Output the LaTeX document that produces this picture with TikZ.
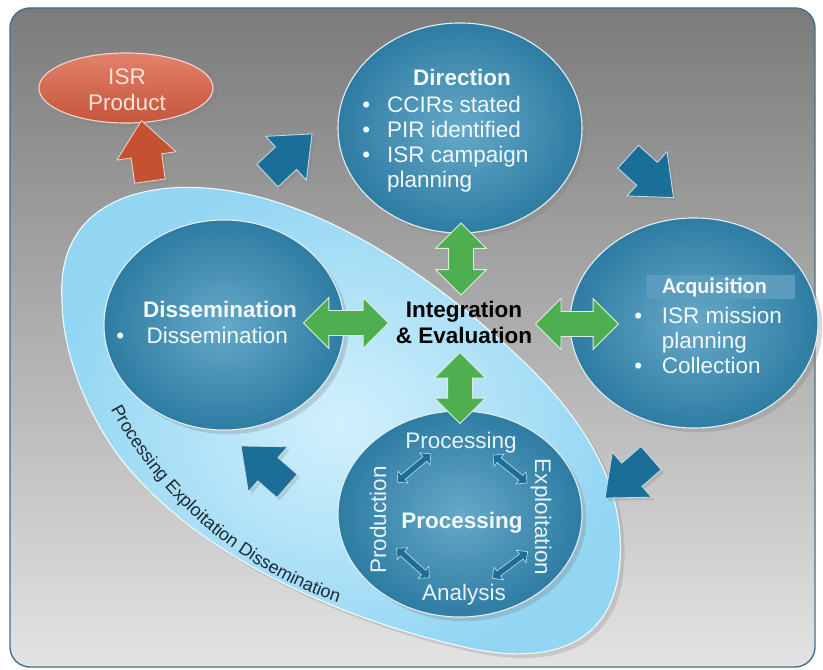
\documentclass[tikz,border=0pt]{standalone}
\usepackage{fontspec}
\setmainfont{Liberation Sans}
\newfontfamily\carlito{Carlito}
\usepackage{xcolor}
\usetikzlibrary{positioning,calc,shapes.geometric,shapes.arrows,shadows,decorations.text}

\definecolor{panelTop}{HTML}{7B7B7B}
\definecolor{panelBot}{HTML}{E3E3E3}
\definecolor{panelEdge}{HTML}{46708A}
\definecolor{pedIn}{HTML}{D2F0FC}
\definecolor{pedOut}{HTML}{93D6F3}
\definecolor{pedText}{HTML}{1D2A33}
\definecolor{circIn}{HTML}{66A9C8}
\definecolor{circOut}{HTML}{2E7CA3}
\definecolor{blueArr}{HTML}{1B6E98}
\definecolor{redArr}{HTML}{C4512F}
\definecolor{isrTop}{HTML}{E2826A}
\definecolor{isrBot}{HTML}{C4553A}
\definecolor{isrText}{HTML}{FBE3DA}
\definecolor{greenArr}{HTML}{4FAE4F}
\definecolor{acqBox}{HTML}{5C9CBD}
\definecolor{txtLight}{HTML}{F2F8FB}

\begin{document}
\begin{tikzpicture}[
  x=0.025cm, y=-0.025cm,
  % --- shapes ---
  cycle_circle/.style={
    ellipse, draw=white!80!circIn, line width=0.8pt, inner sep=0pt,
    inner color=circIn, outer color=circOut,
    drop shadow={opacity=0.3, shadow xshift=3pt, shadow yshift=-3pt}
  },
  blue_arrow/.style={
    single arrow, fill=blueArr, draw=white!75!blueArr, line width=0.6pt,
    minimum height=1.525cm, inner xsep=0pt, inner ysep=0.375cm,
    single arrow head extend=0.36cm, single arrow tip angle=80,
    drop shadow={opacity=0.25, shadow xshift=2pt, shadow yshift=-2pt}
  },
  green_arrow/.style={
    double arrow, fill=greenArr, draw=white!80!greenArr, line width=0.6pt,
    inner xsep=0pt, inner ysep=0.3cm, double arrow head extend=0.325cm
  },
  small_arrow/.style={
    double arrow, fill=blueArr, draw=white!80!blueArr, line width=0.4pt,
    minimum height=1.1cm, inner xsep=0pt, inner ysep=0.07cm,
    double arrow head extend=0.12cm
  },
  % --- text ---
  head_text/.style={text=txtLight, font=\fontsize{16}{18}\selectfont\bfseries, inner sep=0pt},
  sub_text/.style={text=white!85!circIn, font=\fontsize{16}{18}\selectfont, inner sep=0pt},
  item_text/.style={text=txtLight, font=\fontsize{16}{17.8}\selectfont, inner sep=0pt, anchor=base west},
  acq_box/.style={
    anchor=west, fill=acqBox, text=txtLight,
    font=\carlito\fontsize{16}{18}\selectfont\bfseries,
    text width=2.95cm, align=left, inner xsep=0.375cm, inner ysep=0pt,
    minimum height=0.575cm
  }
  ]
  \useasboundingbox (0,0) rectangle (823,670);
  \fill[white] (0,0) rectangle (823,670);
  % Panel
  \draw[panelEdge, line width=1pt, rounded corners=0.5cm, top color=panelTop, bottom color=panelBot]
    (10,8) rectangle (815,667);

  % PED region
  \path[draw=white!85!pedOut, line width=0.8pt, inner color=pedIn, outer color=pedOut,
        drop shadow={opacity=0.25, shadow xshift=3pt, shadow yshift=-3pt}]
    (62,300) .. controls (58,240) and (90,195) .. (170,188)
    .. controls (280,180) and (400,250) .. (500,340)
    .. controls (580,410) and (625,480) .. (620,560)
    .. controls (615,645) and (550,668) .. (460,646)
    .. controls (380,628) and (220,575) .. (130,470)
    .. controls (95,430) and (62,360) .. (62,300) -- cycle;
  \path[decorate, decoration={text along path, text align=center, text color=pedText,
        text={|\fontsize{12.8}{14}\selectfont|Processing Exploitation Dissemination}}]
    (105,398) .. controls (145,480) and (228,570) .. (350,606);

  % Circles
  \node[cycle_circle, minimum width=6.1cm, minimum height=5.25cm] (dir) at (460,128) {};
  \node[cycle_circle, minimum width=6.0cm, minimum height=5.25cm] (dis) at (224,325) {};
  \node[cycle_circle, minimum width=6.2cm, minimum height=5.25cm] (acq) at (694,323) {};
  \node[cycle_circle, minimum width=6.1cm, minimum height=5.15cm] (proc) at (460,514) {};
  \node[ellipse, draw=white!75!isrBot, line width=0.8pt, top color=isrTop, bottom color=isrBot,
        minimum width=4.35cm, minimum height=1.75cm,
        drop shadow={opacity=0.3, shadow xshift=3pt, shadow yshift=-3pt}] (isr) at (126,88) {};

  % Cycle arrows
  \node[blue_arrow, rotate=43] (b1) at (283,161) {};
  \node[blue_arrow, rotate=-42] (b2) at (644,171) {};
  \node[blue_arrow, rotate=-139] (b3) at (635,472) {};
  \node[blue_arrow, rotate=139] (b4) at (271,472) {};
  \node[blue_arrow, fill=redArr, draw=white!75!redArr, rotate=98] (r1) at (147,160) {};

  % Integration arrows
  \node[green_arrow, rotate=90, minimum height=1.8cm] (gUp) at (461,259) {};
  \node[green_arrow, rotate=90, minimum height=1.775cm] (gDown) at (460,388) {};
  \node[green_arrow, minimum height=2.125cm] (gLeft) at (346,323) {};
  \node[green_arrow, minimum height=2.075cm] (gRight) at (577,324) {};

  % Texts
  \node[anchor=base, inner sep=0pt, text=isrText, font=\fontsize{16}{17.8}\selectfont] (isrT) at (127,85)
    {\begin{tabular}[t]{@{}c@{}}ISR\\ Product\end{tabular}};

  \node[head_text, anchor=base] (dirT) at (462,86) {Direction};
  \node[item_text] (dirL) at (362,112)
    {\begin{tabular}[t]{@{}l@{\hspace{12pt}}l@{}}\textbullet & CCIRs stated\\ \textbullet & PIR identified\\
      \textbullet & ISR campaign\\ & planning\end{tabular}};

  \node[head_text, anchor=base] (disT) at (220,317) {Dissemination};
  \node[item_text] (disL) at (116,343)
    {\begin{tabular}[t]{@{}l@{\hspace{16pt}}l@{}}\textbullet & Dissemination\end{tabular}};

  \node[acq_box] (acqT) at (647,287) {Acquisition};
  \node[item_text] (acqL) at (634,323)
    {\begin{tabular}[t]{@{}l@{\hspace{14pt}}l@{}}\textbullet & ISR mission\\ & planning\\ \textbullet & Collection\end{tabular}};

  \node[anchor=base, inner sep=0pt, font=\fontsize{16}{18.5}\selectfont\bfseries] (integ) at (464,317)
    {\begin{tabular}[t]{@{}c@{}}Integration\\ \& Evaluation\end{tabular}};

  % Processing steps
  \node[sub_text, anchor=base] (pTop) at (461,448) {Processing};
  \node[head_text, anchor=base] (pMid) at (462,528) {Processing};
  \node[sub_text, anchor=base] (pBot) at (464,600) {Analysis};
  \node[sub_text, rotate=90] (pLeft) at (378,520) {Production};
  \node[sub_text, rotate=-90] (pRight) at (541,517) {Exploitation};
  \node[small_arrow, rotate=40] (sa1) at (414,468) {};
  \node[small_arrow, rotate=-39] (sa2) at (510,469) {};
  \node[small_arrow, rotate=37] (sa3) at (510,565) {};
  \node[small_arrow, rotate=-42] (sa4) at (413,563) {};
\end{tikzpicture}
\end{document}
